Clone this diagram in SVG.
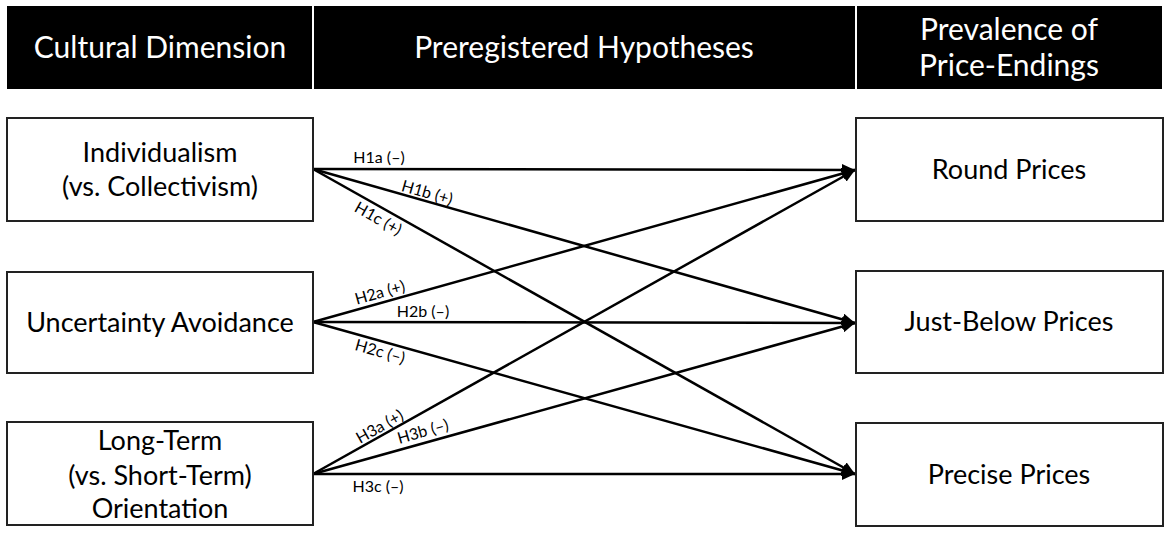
<svg xmlns="http://www.w3.org/2000/svg" width="1169" height="533" viewBox="0 0 1169 533">
<style>
.hdr{fill:#000}
.ht{fill:#fff;font-family:Lato,"Open Sans",sans-serif;font-size:30px;text-anchor:middle}
.box{fill:#fff;stroke:#222;stroke-width:2}
.bt{fill:#000;font-family:Lato,"Open Sans",sans-serif;font-size:27px;text-anchor:middle}
.lbl{fill:#000;font-family:Lato,"Open Sans",sans-serif;font-size:16px;text-anchor:middle}
.edge{stroke:#000;stroke-width:2.5;fill:none;marker-end:url(#arr)}
</style>
<defs>
<marker id="arr" markerUnits="userSpaceOnUse" markerWidth="14" markerHeight="12" refX="13" refY="6" orient="auto">
<path d="M0,0 L13,6 L0,12 z" fill="#000"/>
</marker>
</defs>
<rect width="1169" height="533" fill="#fff"/>
<g id="header-cultural">
<rect class="hdr" x="7" y="6" width="305" height="83"/>
<text class="ht" x="160" y="58">Cultural Dimension</text>
</g>
<g id="header-hypotheses">
<rect class="hdr" x="314" y="6" width="541" height="83"/>
<text class="ht" x="584" y="58">Preregistered Hypotheses</text>
</g>
<g id="header-prevalence">
<rect class="hdr" x="857" y="6" width="305" height="83"/>
<text class="ht" x="1009" y="40">Prevalence of</text>
<text class="ht" x="1009" y="76">Price-Endings</text>
</g>
<g id="connectors">
<line class="edge" x1="313" y1="169" x2="855" y2="170"/>
<line class="edge" x1="313" y1="169" x2="855" y2="323"/>
<line class="edge" x1="313" y1="169" x2="855" y2="474"/>
<line class="edge" x1="313" y1="322" x2="855" y2="170"/>
<line class="edge" x1="313" y1="322" x2="855" y2="323"/>
<line class="edge" x1="313" y1="322" x2="855" y2="474"/>
<line class="edge" x1="313" y1="474" x2="855" y2="170"/>
<line class="edge" x1="313" y1="474" x2="855" y2="323"/>
<line class="edge" x1="313" y1="474" x2="855" y2="474"/>
<text class="lbl" x="379" y="163">H1a (–)</text>
<text class="lbl" x="427" y="198" transform="rotate(15.9 427 193)">H1b (+)</text>
<text class="lbl" x="378" y="224" transform="rotate(29.4 378 219)">H1c (+)</text>
<text class="lbl" x="380" y="298" transform="rotate(-15.8 380 293)">H2a (+)</text>
<text class="lbl" x="423" y="317">H2b (–)</text>
<text class="lbl" x="380" y="357" transform="rotate(15.9 380 352)">H2c (–)</text>
<text class="lbl" x="380" y="432" transform="rotate(-29.4 380 427)">H3a (+)</text>
<text class="lbl" x="423" y="437" transform="rotate(-15.9 423 432)">H3b (–)</text>
<text class="lbl" x="378" y="492">H3c (–)</text>
</g>
<g id="node-individualism">
<rect class="box" x="7" y="118" width="306" height="103"/>
<text class="bt" x="160" y="162">Individualism</text>
<text class="bt" x="160" y="196">(vs. Collectivism)</text>
</g>
<g id="node-uncertainty">
<rect class="box" x="7" y="272" width="306" height="101"/>
<text class="bt" x="160" y="332">Uncertainty Avoidance</text>
</g>
<g id="node-longterm">
<rect class="box" x="7" y="422" width="306" height="103"/>
<text class="bt" x="160" y="450">Long-Term</text>
<text class="bt" x="160" y="485">(vs. Short-Term)</text>
<text class="bt" x="160" y="518">Orientation</text>
</g>
<g id="node-round">
<rect class="box" x="856" y="118" width="307" height="103"/>
<text class="bt" x="1009" y="179">Round Prices</text>
</g>
<g id="node-justbelow">
<rect class="box" x="856" y="271" width="307" height="102"/>
<text class="bt" x="1009" y="331">Just-Below Prices</text>
</g>
<g id="node-precise">
<rect class="box" x="856" y="423" width="307" height="103"/>
<text class="bt" x="1009" y="484">Precise Prices</text>
</g>
</svg>
